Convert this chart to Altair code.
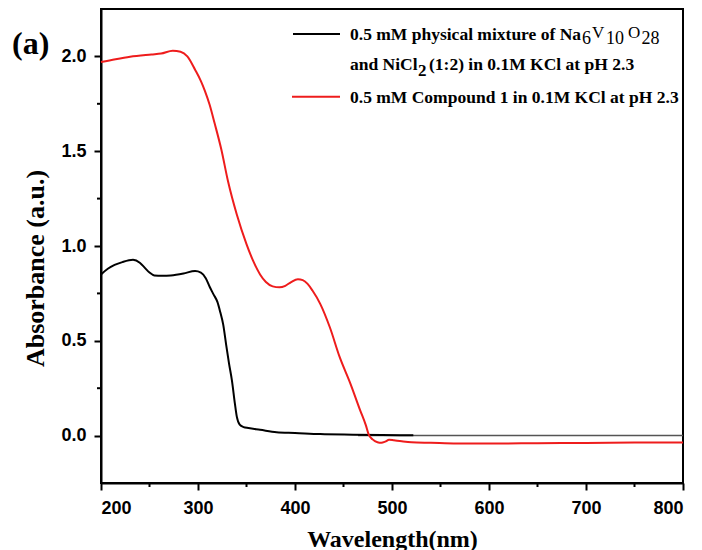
import altair as alt
import pandas as pd

# ---------------- data ----------------
black_wl = [200, 207, 214, 222, 233, 240, 245, 250, 255, 263, 272, 285, 297, 303,
            308, 312, 316, 320, 323, 326, 329, 332, 335, 338, 340, 343, 347, 352,
            364, 381, 400, 426, 460, 490, 522]
black_abs = [0.85, 0.88, 0.90, 0.915, 0.927, 0.912, 0.886, 0.860, 0.845, 0.843, 0.845,
             0.855, 0.868, 0.860, 0.830, 0.785, 0.745, 0.705, 0.650, 0.585, 0.480,
             0.380, 0.290, 0.170, 0.100, 0.058, 0.045, 0.040, 0.031, 0.018, 0.014,
             0.008, 0.005, 0.003, 0.002]

red_wl = [200, 215, 230, 252, 262, 274, 282, 289, 297, 303, 307, 312, 317, 324, 331,
          340, 350, 357, 364, 370, 377, 384, 390, 396, 403, 408, 413, 418, 426, 436,
          446, 457, 467, 473, 476, 480, 485, 489, 493, 497, 502, 510, 520, 540, 567,
          600, 650, 700, 750, 800]
red_abs = [1.97, 1.985, 1.998, 2.01, 2.015, 2.03, 2.025, 2.0, 1.93, 1.87, 1.82, 1.745,
           1.65, 1.51, 1.34, 1.166, 1.01, 0.92, 0.85, 0.81, 0.787, 0.782, 0.79, 0.81,
           0.825, 0.82, 0.80, 0.765, 0.695, 0.57, 0.415, 0.276, 0.136, 0.055, 0.005,
           -0.02, -0.035, -0.038, -0.032, -0.022, -0.025, -0.03, -0.035, -0.038,
           -0.042, -0.042, -0.040, -0.039, -0.037, -0.036]

zero_wl = [465, 800]
zero_abs = [0.0, 0.0]

x_major = [200, 300, 400, 500, 600, 700, 800]
x_minor = [250, 350, 450, 550, 650, 750]
y_major = [0.0, 0.5, 1.0, 1.5, 2.0]
y_minor = [0.25, 0.75, 1.25, 1.75]

legend_black_1 = "0.5 mM physical mixture of Na"
legend_black_2a = "and NiCl"
legend_black_2b = "(1:2) in 0.1M KCl at pH 2.3"
legend_red = "0.5 mM Compound 1 in 0.1M KCl at pH 2.3"

# ---------------- chart ----------------
W, H = 582, 474
SERIF = "Liberation Serif"
SANS = "Liberation Sans"
RED = "#ee1c1c"

xs = alt.Scale(domain=[200, 800], nice=False, zero=False)
ys = alt.Scale(domain=[-0.25, 2.25], nice=False, zero=False)

black_df = pd.DataFrame({"wl": black_wl, "a": black_abs})
red_df = pd.DataFrame({"wl": red_wl, "a": red_abs})
zero_df = pd.DataFrame({"wl": zero_wl, "a": zero_abs})

x_axis = alt.Axis(values=x_major, title="Wavelength(nm)", tickSize=7, tickWidth=2,
                  labelFont=SANS, labelFontWeight="bold", labelFontSize=18,
                  labelPadding=9, titleFont=SERIF, titleFontWeight="bold",
                  titleFontSize=24, titleX=291, titleY=63,
                  titleBaseline="alphabetic", titleAlign="center", grid=False)
y_axis = alt.Axis(values=y_major, format=".1f", title="Absorbance (a.u.)",
                  tickSize=7, tickWidth=2, labelFont=SANS, labelFontWeight="bold",
                  labelFontSize=18, labelPadding=8, titleFont=SERIF,
                  titleFontWeight="bold", titleFontSize=26, titleAngle=270,
                  titleX=-58, titleY=259, titleBaseline="alphabetic",
                  titleAlign="center", grid=False)

X = alt.X("wl:Q", scale=xs, axis=x_axis, title="Wavelength(nm)")
Y = alt.Y("a:Q", scale=ys, axis=y_axis, title="Absorbance (a.u.)")

zero_line = alt.Chart(zero_df).mark_line(color="#555555", strokeWidth=1.5).encode(
    x=X, y=Y)
black_line = alt.Chart(black_df).mark_line(color="black", strokeWidth=2,
                                           interpolate="monotone").encode(x=X, y=Y)
red_line = alt.Chart(red_df).mark_line(color=RED, strokeWidth=2,
                                       interpolate="monotone").encode(x=X, y=Y)

xminor = alt.Chart(pd.DataFrame({"wl": x_minor})).mark_rule(
    color="black", strokeWidth=2).encode(
    x=X, y=alt.value(H), y2=alt.value(H + 4),
)
yminor = alt.Chart(pd.DataFrame({"a": y_minor})).mark_rule(
    color="black", strokeWidth=2).encode(
    y=Y, x=alt.value(0), x2=alt.value(-4),
)

one = alt.Data(values=[{"k": 1}])


def txt(s, x, y, size=17.5, weight="bold", font=SERIF, color="black"):
    return alt.Chart(one).mark_text(
        text=s, font=font, fontSize=size, fontWeight=weight, align="left",
        baseline="alphabetic", color=color,
    ).encode(x=alt.value(x), y=alt.value(y))


def seg(x1, x2, y, color):
    return alt.Chart(one).mark_rule(color=color, strokeWidth=2).encode(
        x=alt.value(x1), x2=alt.value(x2), y=alt.value(y))


legend = [
    seg(192, 239, 25, "black"),
    txt(legend_black_1, 249, 30.5),
    txt("6", 481, 34.5, size=18, weight="normal"),
    txt("V", 491, 28.5, size=17, weight="normal"),
    txt("10", 505, 34.5, size=18, weight="normal"),
    txt("O", 527, 28.5, size=17, weight="normal"),
    txt("28", 540.5, 34.5, size=18, weight="normal"),
    txt(legend_black_2a, 249, 60.5),
    txt("2", 317, 67, size=17),
    txt(legend_black_2b, 328, 60.5),
    seg(191, 239, 87.7, RED),
    txt(legend_red, 249, 93.5),
    txt("(a)", -89, 45, size=32),
]

chart = alt.layer(zero_line, black_line, red_line, xminor, yminor, *legend).properties(
    width=W, height=H,
    autosize=alt.AutoSizeParams(type="none"),
    padding={"left": 101, "top": 9, "right": 19, "bottom": 67},
    background="white",
).configure_view(stroke="black", strokeWidth=2).configure_axis(
    domainColor="black", domainWidth=2, tickColor="black", labelColor="black",
    titleColor="black",
)

chart.save("out.html", embed_options={"renderer": "svg", "actions": False})
